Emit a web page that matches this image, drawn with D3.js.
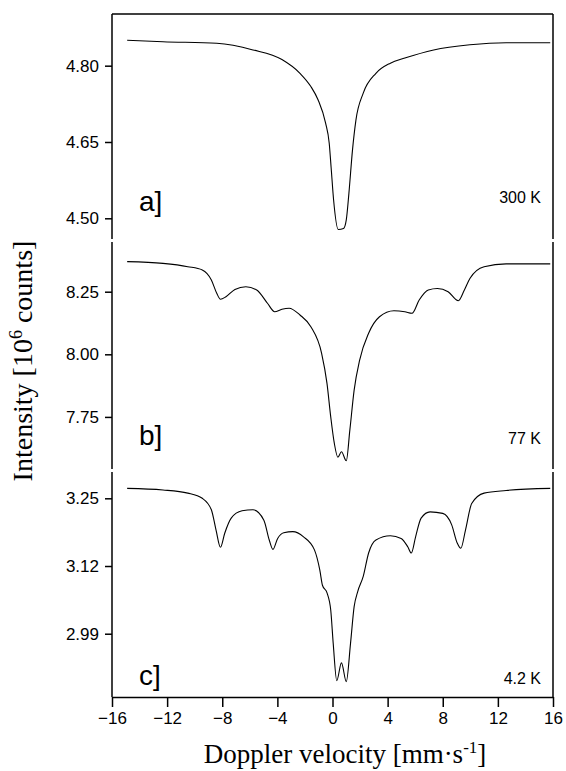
<!DOCTYPE html>
<html>
<head>
<meta charset="utf-8">
<script src="https://cdn.jsdelivr.net/npm/d3@7"></script>
<style>
  body { margin: 0; background: #fff; }
  .tick text { font-family: "Liberation Sans", Arial, sans-serif; font-size: 17px; fill: #000; }
</style>
</head>
<body>
<svg id="chart" width="566" height="771"></svg>
<script>
// x ticks
const xTicks = [-16, -12, -8, -4, 0, 4, 8, 12, 16]

// a] 300 K
const velA = [-14.9, -12.3, -8.4, -5.77, -3.67, -2.36, -1.57, -1.05, -0.5, -0.24, -0.1, 0.08, 0.42, 0.8, 1.0, 1.19, 1.45, 1.7, 2.23, 3.15, 4.2, 5.25, 7.34, 9.97, 12.6, 15.8]
const intA = [4.850, 4.847, 4.844, 4.831, 4.812, 4.785, 4.759, 4.733, 4.687, 4.648, 4.600, 4.536, 4.478, 4.480, 4.497, 4.549, 4.634, 4.693, 4.746, 4.785, 4.805, 4.815, 4.831, 4.841, 4.845, 4.845]
const ticksA = [4.50, 4.65, 4.80]

// b] 77 K
const velB = [-14.9, -12.3, -10.5, -9.45, -8.79, -8.4, -8.13, -7.73, -7.08, -6.29, -5.5, -4.72, -4.2, -3.67, -3.15, -2.36, -1.57, -0.79, -0.4, -0.13, 0.13, 0.39, 0.65, 1.0, 1.26, 1.57, 1.97, 2.62, 3.41, 4.46, 5.25, 5.77, 6.29, 6.95, 7.61, 8.39, 9.13, 9.57, 9.97, 11.0, 12.6, 15.8]
const intB = [8.370, 8.363, 8.350, 8.337, 8.297, 8.244, 8.220, 8.230, 8.259, 8.270, 8.257, 8.204, 8.170, 8.180, 8.184, 8.157, 8.110, 8.004, 7.884, 7.751, 7.645, 7.589, 7.611, 7.575, 7.698, 7.857, 7.977, 8.084, 8.150, 8.174, 8.170, 8.164, 8.217, 8.257, 8.263, 8.250, 8.214, 8.257, 8.303, 8.350, 8.361, 8.361]
const ticksB = [7.75, 8.00, 8.25]

// c] 4.2 K
const velC = [-14.9, -12.3, -10.5, -9.45, -8.79, -8.45, -8.13, -7.82, -7.35, -6.56, -5.77, -4.98, -4.59, -4.32, -3.98, -3.54, -2.88, -2.1, -1.31, -0.92, -0.73, -0.39, -0.13, 0.05, 0.31, 0.65, 1.0, 1.31, 1.57, 1.83, 2.23, 2.62, 3.15, 4.2, 4.98, 5.46, 5.72, 6.03, 6.43, 7.08, 8.0, 8.65, 9.05, 9.31, 9.65, 10.1, 11.0, 12.6, 15.8]
const intC = [3.269, 3.266, 3.260, 3.250, 3.228, 3.189, 3.156, 3.183, 3.212, 3.226, 3.228, 3.208, 3.170, 3.152, 3.173, 3.184, 3.186, 3.176, 3.151, 3.112, 3.083, 3.068, 3.036, 2.972, 2.900, 2.934, 2.898, 2.972, 3.042, 3.071, 3.100, 3.145, 3.170, 3.178, 3.173, 3.157, 3.145, 3.176, 3.212, 3.224, 3.221, 3.199, 3.164, 3.154, 3.189, 3.240, 3.260, 3.265, 3.269]
const ticksC = [2.99, 3.12, 3.25]

const panelLabels = ['a]', 'b]', 'c]']
const tempLabels = ['300 K', '77 K', '4.2 K']

const svg = d3.select('#chart')
const left = 112
const right = 553

const panels = [
  { vel: velA, val: intA, ticks: ticksA, domain: [4.4593, 4.9016], top: 14, bottom: 239, labY: 211, tY: 203 },
  { vel: velB, val: intB, ticks: ticksB, domain: [7.542, 8.4485], top: 242, bottom: 469, labY: 445, tY: 444 },
  { vel: velC, val: intC, ticks: ticksC, domain: [2.8685, 3.3005], top: 472, bottom: 697, labY: 685, tY: 684 }
]

const xScale = d3.scaleLinear()
  .domain([-16, 16])
  .range([left, right])

panels.forEach((p, i) => {
  const yScale = d3.scaleLinear()
    .domain(p.domain)
    .range([p.bottom, p.top])

  const yAxisG = svg.append('g')
    .attr('transform', `translate(${left},0)`)
    .call(d3.axisLeft(yScale).tickValues(p.ticks).tickFormat(d3.format('.2f')).tickSize(7).tickPadding(6))

  yAxisG.select('.domain').remove()
  yAxisG.selectAll('.tick line').attr('stroke', '#000').attr('stroke-width', 1.5)

  // frame sides of this panel
  svg.append('line')
    .attr('x1', left).attr('x2', left)
    .attr('y1', p.top).attr('y2', p.bottom)
    .attr('stroke', '#000').attr('stroke-width', 1.5)
  svg.append('line')
    .attr('x1', right).attr('x2', right)
    .attr('y1', p.top).attr('y2', p.bottom)
    .attr('stroke', '#000').attr('stroke-width', 1.5)

  const pts = p.vel.map((v, k) => [v, p.val[k]])
  const line = d3.line()
    .x(d => xScale(d[0]))
    .y(d => yScale(d[1]))
    .curve(d3.curveMonotoneX)

  svg.append('path')
    .datum(pts)
    .attr('d', line)
    .attr('fill', 'none')
    .attr('stroke', '#000')
    .attr('stroke-width', 1.1)

  svg.append('text')
    .attr('x', 139)
    .attr('y', p.labY)
    .attr('font-family', '"Liberation Sans", Arial, sans-serif')
    .attr('font-size', 28)
    .text(panelLabels[i])

  svg.append('text')
    .attr('x', 541)
    .attr('y', p.tY)
    .attr('text-anchor', 'end')
    .attr('font-family', '"Liberation Sans", Arial, sans-serif')
    .attr('font-size', 16)
    .text(tempLabels[i])
})

// top border
svg.append('line')
  .attr('x1', left).attr('x2', right)
  .attr('y1', 14).attr('y2', 14)
  .attr('stroke', '#000').attr('stroke-width', 1.5)

// x axis
const xAxisG = svg.append('g')
  .attr('transform', `translate(0,697)`)
  .call(d3.axisBottom(xScale).tickValues(xTicks).tickSize(10).tickSizeOuter(0).tickPadding(5))

xAxisG.select('.domain').attr('stroke', '#000').attr('stroke-width', 1.5)
xAxisG.selectAll('.tick line').attr('stroke', '#000').attr('stroke-width', 1.5)

// axis titles
const xTitle = svg.append('text')
  .attr('x', 345)
  .attr('y', 763)
  .attr('text-anchor', 'middle')
  .attr('font-family', '"Liberation Serif", "Times New Roman", serif')
  .attr('font-size', 27)
xTitle.append('tspan').text('Doppler velocity [mm·s')
xTitle.append('tspan').attr('dy', -10).attr('font-size', 17).text('-1')
xTitle.append('tspan').attr('dy', 10).text(']')

const yTitle = svg.append('text')
  .attr('transform', 'translate(32,361) rotate(-90)')
  .attr('text-anchor', 'middle')
  .attr('font-family', '"Liberation Serif", "Times New Roman", serif')
  .attr('font-size', 28)
yTitle.append('tspan').text('Intensity [10')
yTitle.append('tspan').attr('dy', -10).attr('font-size', 18).text('6')
yTitle.append('tspan').attr('dy', 10).text(' counts]')
</script>
</body>
</html>
